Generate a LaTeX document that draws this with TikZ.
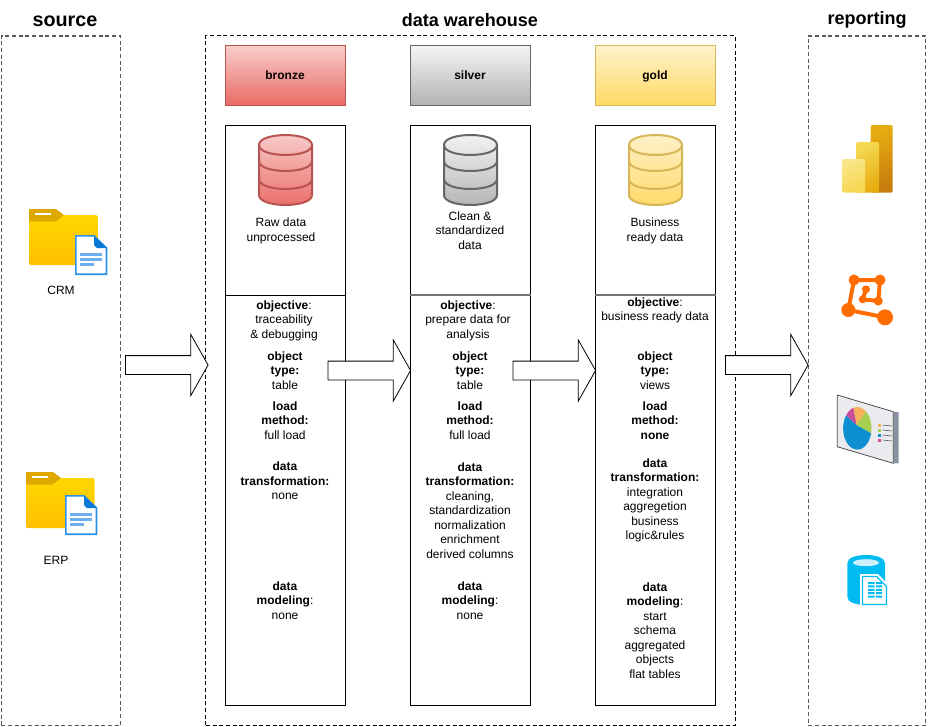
\documentclass[tikz,border=0pt]{standalone}
\usepackage{fontspec}
\setmainfont{Liberation Sans}
\usetikzlibrary{positioning,
        shapes.arrows}

\definecolor{bronzetop}{HTML}{F8CECC}
\definecolor{bronzeend}{HTML}{EA6B66}
\definecolor{bronzeline}{HTML}{B85450}
\definecolor{silvertop}{HTML}{F5F5F5}
\definecolor{silverend}{HTML}{B3B3B3}
\definecolor{silverline}{HTML}{666666}
\definecolor{goldtop}{HTML}{FFF2CC}
\definecolor{goldend}{HTML}{FFD966}
\definecolor{goldline}{HTML}{D6B656}
\definecolor{filetab}{HTML}{DFA800}
\definecolor{filetop}{HTML}{FFD600}
\definecolor{fileend}{HTML}{FFC000}
\definecolor{fileblue}{HTML}{2B8FE5}
\definecolor{filedark}{HTML}{0A78D4}
\definecolor{filelite}{HTML}{6DAEEE}
\definecolor{sinkorange}{HTML}{FF6D00}
\definecolor{sinkcyan}{HTML}{00BCF2}
\definecolor{pieorange}{HTML}{F7B35C}
\definecolor{piegreen}{HTML}{A9CF52}
\definecolor{pieblue}{HTML}{0D8FD2}
\definecolor{piepink}{HTML}{C94F9E}
\definecolor{boardside}{HTML}{8A93A3}
\definecolor{boardfront}{HTML}{E9EBEF}
\definecolor{barpale}{HTML}{F9E589}
\definecolor{barmid}{HTML}{F6D751}
\definecolor{bardeep}{HTML}{E6AD10}
\definecolor{barend}{HTML}{C87E0E}

\tikzset{
    zone/.style={draw=black!65,line width=1pt,dash pattern=on 3pt off 2pt,minimum width=89.5pt,minimum height=517pt},
    zonetitle/.style={font=\fontsize{13.5}{16}\selectfont\bfseries},
    bronzefill/.style={top color=bronzetop,bottom color=bronzeend,draw=bronzeline},
    silverfill/.style={top color=silvertop,bottom color=silverend,draw=silverline},
    goldfill/.style={top color=goldtop,bottom color=goldend,draw=goldline},
    layerhead/.style={minimum width=90pt,minimum height=45pt,line width=0.75pt,text depth=0pt,font=\fontsize{9}{11}\selectfont\bfseries},
    layerbox/.style={draw,line width=0.75pt,minimum width=90pt,minimum height=435pt},
    info/.style={align=center,inner sep=0pt,font=\fontsize{9}{10.9}\selectfont},
    flow/.style={draw,fill=white,line width=0.6pt,single arrow,anchor=tail,inner xsep=0pt,inner ysep=6.75pt,
        minimum height=62pt,single arrow head extend=16pt,
        single arrow head indent=0pt,single arrow tip angle=121}
}

% database drum, left edge at #1
\newcommand{\drumicon}[3]{
    \draw [#2,line width=1.5pt] (#1,145) -- (#1,195) .. controls (#1,208.3) and (#1+53,208.3) .. (#1+53,195)
        -- (#1+53,145) .. controls (#1+53,131.7) and (#1,131.7) .. (#1,145) -- cycle;
    \draw [#3,line width=1.5pt] (#1,145) .. controls (#1,158.3) and (#1+53,158.3) .. (#1+53,145);
    \draw [#3,line width=1.5pt] (#1,161) .. controls (#1,174.3) and (#1+53,174.3) .. (#1+53,161);
    \draw [#3,line width=1.5pt] (#1,179) .. controls (#1,192.3) and (#1+53,192.3) .. (#1+53,179);
}
% folder, tab corner at #1,#2
\newcommand{\foldericon}[2]{
    \begin{scope}[shift={(#1,#2)}]
        \shade [top color=filetop,bottom color=fileend,rounded corners=1pt] (0,6) rectangle (68.5,56);
        \fill [filetab,rounded corners=0.5pt] (0,0) -- (27,0) -- (35,6) -- (27,12.5) -- (0,12.5) -- cycle;
        \fill [white] (6,3.5) rectangle (22,6.3);
    \end{scope}
}
% page, top left corner at #1,#2
\newcommand{\pageicon}[2]{
    \begin{scope}[shift={(#1,#2)}]
        \draw [fileblue,fill=white,line width=1.2pt] (0.8,0.8) -- (19,0.8) -- (31.5,13) -- (31.5,39.2) -- (0.8,39.2) -- cycle;
        \fill [filedark] (19,0.8) -- (31.5,13) -- (22,13) -- (19,10) -- cycle;
        \fill [filelite] (5,18) rectangle (27,21);
        \fill [filelite] (5,23) rectangle (27,26);
        \fill [filelite] (5,28) rectangle (19,31);
    \end{scope}
}

\begin{document}
\begin{tikzpicture}[x=0.75pt,y=-0.75pt]
    \useasboundingbox (0,0) rectangle (928,726);
    \coordinate (rule) at (0,295);

    \node [zone] (sourcezone) at (61,380.5) {};
    \node [zone,draw=black,line width=0.75pt,minimum width=397pt] (dwzone) at (470.5,380.5) {};
    \node [zone,minimum width=88pt] (reportzone) at (867,380.5) {};
    \node [zonetitle,font=\fontsize{14.8}{16}\selectfont\bfseries] (sourcetitle) at (65,21) {source};
    \node [zonetitle] (dwtitle) at (470,20) {data warehouse};
    \node [zonetitle] (reporttitle) at (867,20) {reporting};

    \foldericon{29}{209}
    \pageicon{75}{235}
    \node [info] (crm) at (61,290) {CRM};
    \foldericon{26}{472}
    \pageicon{65}{495}
    \node [info] (erp) at (56,560) {ERP};

    \node [layerhead,bronzefill] (bronze) at (285,75) {bronze};
    \node [layerhead,silverfill] (silver) at (470,75) {silver};
    \node [layerhead,goldfill] (gold) at (655,75) {gold};

    \node [layerbox] (bronzebox) at (285,415) {};
    \node [layerbox] (silverbox) at (470,415) {};
    \node [layerbox] (goldbox) at (655,415) {};
    \draw [line width=0.75pt] (bronzebox.west |- rule) -- (bronzebox.east |- rule);
    \draw [line width=1.1pt,black!55] (silverbox.west |- rule) -- (silverbox.east |- rule);
    \draw [line width=1.1pt,black!55] (goldbox.west |- rule) -- (goldbox.east |- rule);

    \drumicon{259}{bronzefill}{bronzeline}
    \drumicon{444}{silverfill}{silverline}
    \drumicon{629}{goldfill}{goldline}

    % bronze column
    \node [info] (bronzenote) at (281,231) {Raw data\\unprocessed};
    \node [info] (bronzeobj) at (284,320.5) {\textbf{objective}:\\traceability\\\& debugging};
    \node [info] (bronzetype) at (285,370.5) {\textbf{object}\\\textbf{type:}\\table};
    \node [info] (bronzeload) at (285,420.5) {\textbf{load}\\\textbf{method:}\\full load};
    \node [info] (bronzetrans) at (285,481) {\textbf{data}\\\textbf{transformation:}\\none};
    \node [info] (bronzemodel) at (285,600.5) {\textbf{data}\\\textbf{modeling}:\\none};

    % silver column
    \node [info] (silvernote) at (470,230.5) {Clean \&\\standardized\\data};
    \node [info] (silverobj) at (468,320.5) {\textbf{objective}:\\prepare data for\\analysis};
    \node [info] (silvertype) at (470,370.5) {\textbf{object}\\\textbf{type:}\\table};
    \node [info] (silverload) at (470,420.5) {\textbf{load}\\\textbf{method:}\\full load};
    \node [info] (silvertrans) at (470,510.5) {\textbf{data}\\\textbf{transformation:}\\cleaning,\\standardization\\normalization\\enrichment\\derived columns};
    \node [info] (silvermodel) at (470,600.5) {\textbf{data}\\\textbf{modeling}:\\none};

    % gold column
    \node [info] (goldnote) at (655,231) {Business\\ready data};
    \node [info] (goldobj) at (655,310.5) {\textbf{objective}:\\business ready data};
    \node [info] (goldtype) at (655,370.5) {\textbf{object}\\\textbf{type:}\\views};
    \node [info] (goldload) at (655,420.5) {\textbf{load}\\\textbf{method:}\\\textbf{none}};
    \node [info] (goldtrans) at (655,500.5) {\textbf{data}\\\textbf{transformation:}\\integration\\aggregetion\\business\\logic\&rules};
    \node [info] (goldmodel) at (655,630.5) {\textbf{data}\\\textbf{modeling}:\\start\\schema\\aggregated\\objects\\flat tables};

    \node [flow] (toward) at (125,365) {};
    \node [flow] (tosilver) at (327.5,370.5) {};
    \node [flow] (togold) at (512.5,370.5) {};
    \node [flow] (toreport) at (725,365) {};

    % power bi
    \shade [top color=bardeep,bottom color=barend,rounded corners=1.5pt,shading angle=25] (870.7,125) rectangle (892.7,192.7);
    \shade [top color=barmid,bottom color=bardeep,rounded corners=1.5pt,shading angle=25] (856,142) rectangle (879,192.7);
    \shade [top color=barpale,bottom color=barmid,rounded corners=1.5pt,shading angle=25] (842,159) rectangle (865,192.7);

    % graph tool
    \draw [sinkorange,line width=3pt] (854,280) -- (880,280) -- (878.3,301) -- (862.7,299.3) -- (866,289.3);
    \draw [sinkorange,line width=3pt] (854,280) -- (848.3,310) -- (885,317.3);
    \fill [sinkorange] (854,280) circle (5.5) (880,280) circle (5.5) (848.3,310) circle (7) (885,317.3) circle (8)
        (866,289.3) circle (4) (862.7,299.3) circle (4) (878.3,301) circle (4.5);

    % pie board
    \fill [boardside] (893.3,411.7) -- (898.7,412.3) -- (898.7,463.3) -- (893.3,463.3) -- cycle;
    \draw [fill=boardfront,draw=black!70,line width=0.6pt] (837.3,395) -- (893.3,411.7) -- (893.3,463.3) -- (837.3,446.7) -- cycle;
    \begin{scope}
        \clip (857.3,428.3) ellipse [x radius=14.2,y radius=21.3];
        \fill [pieblue] (856.7,425) -- (835,405) -- (835,460) -- (880,460) -- (880,438) -- cycle;
        \fill [piepink] (856.7,425) -- (835,405) -- (851,395) -- cycle;
        \fill [pieorange] (856.7,425) -- (851,395) -- (874,401) -- cycle;
        \fill [piegreen] (856.7,425) -- (874,401) -- (880,438) -- cycle;
    \end{scope}
    \fill [pieorange] (878,423.5) rectangle +(3,3);
    \fill [piegreen] (878,428.5) rectangle +(3,3);
    \fill [pieblue] (878,433.5) rectangle +(3,3);
    \fill [piepink] (878,438.5) rectangle +(3,3);
    \foreach \legendy in {425,430,435,440}
        \draw [black!70,line width=0.4pt] (882.5,\legendy) -- (892,\legendy+1);

    % cylinder with page
    \fill [sinkcyan] (847.3,563) .. controls (847.3,552.3) and (885,552.3) .. (885,563) -- (885,597)
        .. controls (885,607.7) and (847.3,607.7) .. (847.3,597) -- cycle;
    \fill [white!80!sinkcyan] (866,562.7) ellipse [x radius=13,y radius=3.5];
    \fill [white] (860,574) -- (878,574) -- (889,585) -- (889,607) -- (860,607) -- cycle;
    \draw [sinkcyan,line width=0.9pt] (862.5,576.5) -- (876.5,576.5) -- (886.5,586.5) -- (886.5,604.5) -- (862.5,604.5) -- cycle;
    \foreach \celly in {582,585.4,588.8,592.2,595.6}
        \fill [sinkcyan] (868,\celly) rectangle +(6.5,2) (876,\celly) rectangle +(6,2);
\end{tikzpicture}
\end{document}
